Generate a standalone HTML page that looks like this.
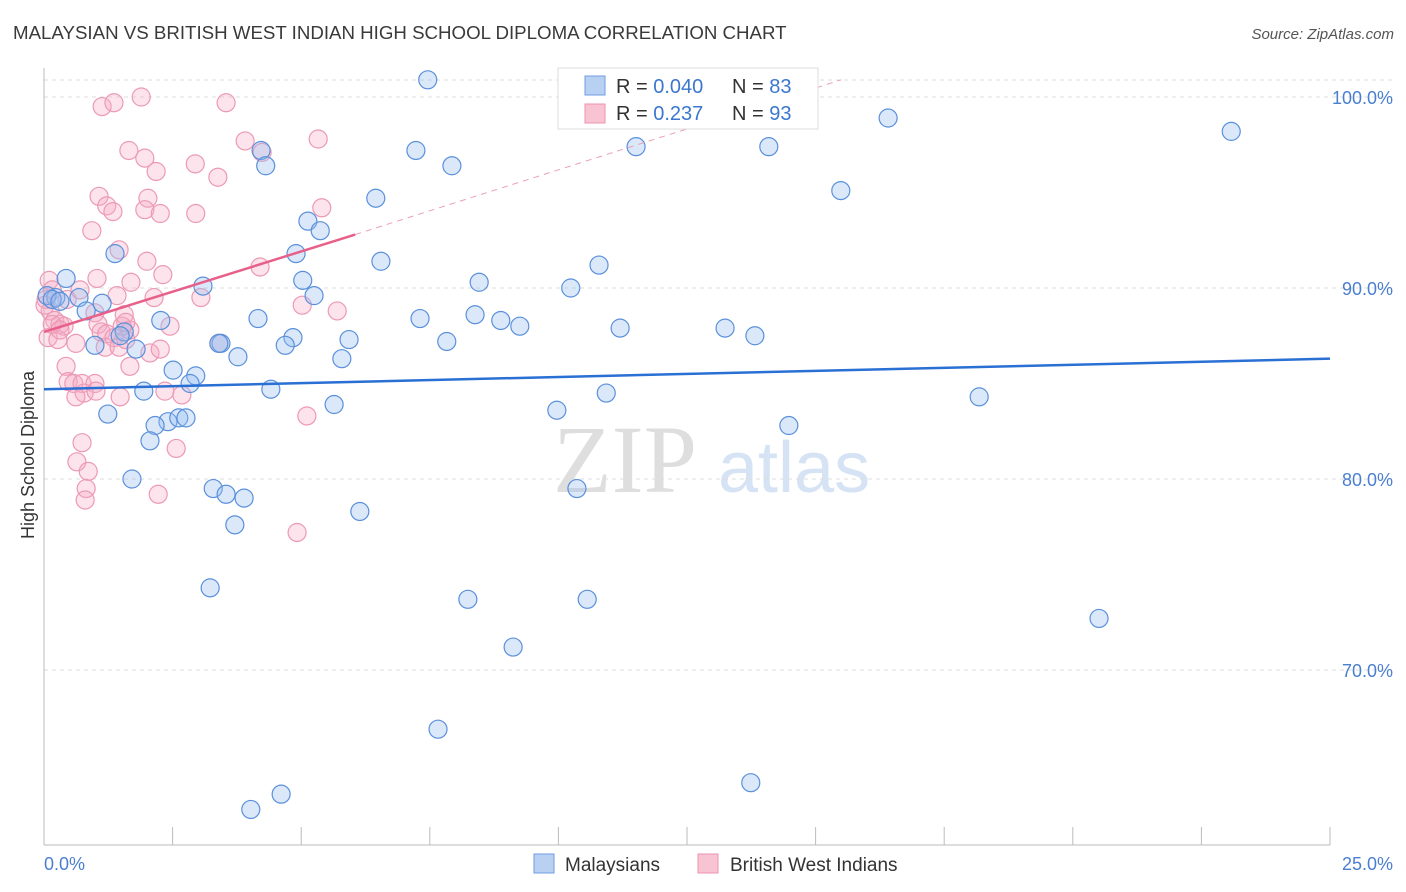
<!DOCTYPE html>
<html><head><meta charset="utf-8"><style>
body{margin:0;background:#fff;font-family:"Liberation Sans",sans-serif}
svg{display:block}
</style></head><body>
<svg id="chart" width="1406" height="892" xmlns="http://www.w3.org/2000/svg">
<text x="13" y="39" font-size="18.7" fill="#3a3a3a">MALAYSIAN VS BRITISH WEST INDIAN HIGH SCHOOL DIPLOMA CORRELATION CHART</text>
<text x="1394" y="39" font-size="15" fill="#555" text-anchor="end" font-style="italic">Source: ZipAtlas.com</text>
<g>
<text x="553" y="492" font-size="96" fill="#dedede" font-family="Liberation Serif, serif">ZIP</text>
<text x="718" y="492" font-size="72" fill="#d6e3f5">atlas</text>
</g>
<g id="grid"></g>
<g id="axes"></g>
<g id="marks"></g>
<text transform="translate(34,455) rotate(-90)" font-size="18" fill="#333" text-anchor="middle">High School Diploma</text>
<g id="topLegend">
<rect x="558" y="68" width="260" height="61" fill="#fff" stroke="#ddd"/>
<rect x="585" y="76" width="20" height="19" fill="#b8d1f3" stroke="#6f9ce0"/>
<rect x="585" y="104" width="20" height="19" fill="#f8c3d3" stroke="#eb93ae"/>
<text x="616" y="93" font-size="20" fill="#333">R = <tspan fill="#3b76d0">0.040</tspan></text>
<text x="732" y="93" font-size="20" fill="#333">N = <tspan fill="#3b76d0">83</tspan></text>
<text x="616" y="120" font-size="20" fill="#333">R = <tspan fill="#3b76d0"> 0.237</tspan></text>
<text x="732" y="120" font-size="20" fill="#333">N = <tspan fill="#3b76d0">93</tspan></text>
</g>
<g>
<rect x="534" y="854" width="20" height="19" fill="#b8d1f3" stroke="#6f9ce0"/>
<text x="565" y="871" font-size="19" fill="#333">Malaysians</text>
<rect x="698" y="854" width="20" height="19" fill="#f8c3d3" stroke="#eb93ae"/>
<text x="730" y="871" font-size="19" fill="#333">British West Indians</text>
</g>
</svg>
<script>
const yTicks=[100,90,80,70];
const yTickLabels=["100.0%","90.0%","80.0%","70.0%"];
const xTicks=[0,2.5,5,7.5,10,12.5,15,17.5,20,22.5,25];
const xEndLabels=["0.0%","25.0%"];
const blueX=[7.46,4.22,4.31,7.23,7.93,11.51,14.09,16.41,23.08,15.49,6.45,5.13,5.37,4.90,5.03,5.25,6.55,8.46,10.79,10.24,1.38,0.43,0.23,0.68,1.13,0.82,3.09,4.16,2.27,3.44,7.83,7.31,8.38,8.88,9.25,11.20,13.24,13.82,5.93,4.84,4.69,3.77,5.79,1.56,1.48,0.99,1.79,2.51,2.95,2.84,4.41,1.94,10.93,1.24,5.64,9.97,2.41,2.62,2.76,2.16,2.06,18.18,14.48,1.71,3.29,3.54,3.89,3.71,6.14,10.36,3.23,8.24,10.56,20.51,9.12,7.66,13.74,4.61,4.02,0.06,0.16,0.31,3.40];
const blueY=[100.9,97.2,96.4,97.2,96.4,97.4,97.4,98.9,98.2,95.1,94.7,93.5,93.0,91.8,90.4,89.6,91.4,90.3,91.2,90.0,91.8,90.5,89.5,89.5,89.2,88.8,90.1,88.4,88.3,87.1,87.2,88.4,88.6,88.3,88.0,87.9,87.9,87.5,87.3,87.4,87.0,86.4,86.3,87.7,87.5,87.0,86.8,85.7,85.4,85.0,84.7,84.6,84.5,83.4,83.9,83.6,83.0,83.2,83.2,82.8,82.0,84.3,82.8,80.0,79.5,79.2,79.0,77.6,78.3,79.5,74.3,73.7,73.7,72.7,71.2,66.9,64.1,63.5,62.7,89.6,89.4,89.3,87.1];
const pinkX=[1.13,1.36,1.89,3.54,1.65,1.96,2.18,2.94,3.38,3.91,4.24,5.33,1.07,1.22,1.34,2.02,1.96,2.26,2.95,5.40,0.93,1.46,2.00,2.31,4.20,1.03,1.69,2.14,1.42,3.05,5.02,5.70,0.10,0.16,0.04,0.12,0.21,0.31,0.39,0.08,0.27,0.62,0.99,1.05,1.11,1.22,1.36,1.19,1.46,1.59,1.67,1.52,2.45,2.06,2.26,1.56,1.59,3.40,0.43,0.47,0.58,0.74,0.99,0.78,1.01,0.62,1.67,1.48,2.35,2.68,2.57,5.11,4.92,0.74,0.64,0.86,0.82,0.80,2.22,0.16,0.31,0.02,0.45,0.70];
const pinkY=[99.5,99.7,100.0,99.7,97.2,96.8,96.1,96.5,95.8,97.7,97.1,97.8,94.8,94.3,94.0,94.7,94.1,93.9,93.9,94.2,93.0,92.0,91.4,90.7,91.1,90.5,90.3,89.5,89.6,89.5,89.1,88.8,90.4,89.9,89.4,88.8,88.3,88.1,88.0,87.4,87.3,87.1,88.7,88.1,87.7,87.6,87.4,86.9,86.9,87.3,87.8,88.0,88.0,86.6,86.8,88.6,88.2,87.1,85.9,85.1,85.0,85.0,85.0,84.5,84.6,84.3,85.9,84.3,84.6,84.4,81.6,83.3,77.2,81.9,80.9,80.4,79.5,78.9,79.2,88.1,87.8,89.1,89.4,89.9];
const blueTrend=[[0,84.7],[25,86.3]];
const pinkTrend=[[0,87.7],[6.05,92.8]];
const pinkTrendExt=[[6.05,92.8],[15.5,100.9]];

const NS="http://www.w3.org/2000/svg";
const X0=44,X1=1330,YB=845;
function sx(v){return X0+(v/25)*(X1-X0);}
function sy(v){return 97+(100-v)*19.1;}
function mk(tag,attrs,parent){const e=document.createElementNS(NS,tag);for(const k in attrs)e.setAttribute(k,attrs[k]);parent.appendChild(e);return e;}
const gridG=document.getElementById('grid'),axesG=document.getElementById('axes'),marksG=document.getElementById('marks');
const topGrid=mk('line',{x1:X0,x2:1394,y1:80,y2:80,stroke:'#ddd','stroke-dasharray':'4,4'},gridG);


yTicks.forEach((t,i)=>{
 const l=mk('line',{x1:X0,x2:1394,y1:sy(t),y2:sy(t),stroke:'#ddd','stroke-dasharray':'4,4'},gridG);
 
 
 const tx=mk('text',{x:1393,y:sy(t)+7,'font-size':18,fill:'#4a7fd0','text-anchor':'end'},axesG);
 tx.textContent=yTickLabels[i];
 
 
});
const yAxisLine=mk('line',{x1:X0,x2:X0,y1:68,y2:YB,stroke:'#bbb'},axesG);


const xAxisLine=mk('line',{x1:X0,x2:X1,y1:YB,y2:YB,stroke:'#bbb'},axesG);


xTicks.forEach(t=>{
 const l=mk('line',{x1:sx(t),x2:sx(t),y1:YB,y2:YB-18,stroke:'#bbb'},axesG);
 
 
});
const xl0=mk('text',{x:44,y:870,'font-size':18,fill:'#4a7fd0'},axesG);xl0.textContent=xEndLabels[0];


const xl1=mk('text',{x:1393,y:870,'font-size':18,fill:'#4a7fd0','text-anchor':'end'},axesG);xl1.textContent=xEndLabels[1];


pinkX.forEach((v,i)=>{
 const c=mk('circle',{cx:sx(v),cy:sy(pinkY[i]),r:9,fill:'rgba(246,170,196,0.33)',stroke:'#ec9ab4','stroke-width':1.2},marksG);
 
 
});
blueX.forEach((v,i)=>{
 const c=mk('circle',{cx:sx(v),cy:sy(blueY[i]),r:9,fill:'rgba(150,190,240,0.35)',stroke:'#5a90db','stroke-width':1.2},marksG);
 
 
});
const bt=mk('line',{x1:sx(blueTrend[0][0]),y1:sy(blueTrend[0][1]),x2:sx(blueTrend[1][0]),y2:sy(blueTrend[1][1]),stroke:'#2a6fd4','stroke-width':2.5},marksG);


const pt=mk('line',{x1:sx(pinkTrend[0][0]),y1:sy(pinkTrend[0][1]),x2:sx(pinkTrend[1][0]),y2:sy(pinkTrend[1][1]),stroke:'#e7608a','stroke-width':2.5},marksG);


const pe=mk('line',{x1:sx(pinkTrendExt[0][0]),y1:sy(pinkTrendExt[0][1]),x2:sx(pinkTrendExt[1][0]),y2:sy(pinkTrendExt[1][1]),stroke:'#eaa0b8','stroke-width':1,'stroke-dasharray':'6,5'},marksG);


document.getElementById('chart').appendChild(document.getElementById('topLegend'));
</script>
</body></html>
